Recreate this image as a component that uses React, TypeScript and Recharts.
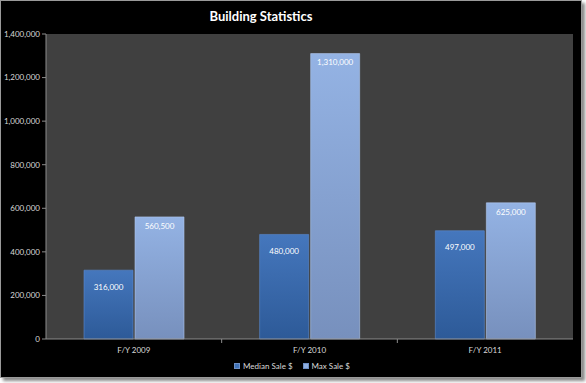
import React from 'react';
import { BarChart, Bar, XAxis, YAxis, Legend, LabelList } from 'recharts';

const categories = ['F/Y 2009', 'F/Y 2010', 'F/Y 2011'];
const medianSale = [316000, 480000, 497000];
const maxSale = [560500, 1310000, 625000];
const yTicks = [0, 200000, 400000, 600000, 800000, 1000000, 1200000, 1400000];
// category centres sit on half steps, boundaries on whole steps
const xTicks = [0, 0.5, 1, 1.5, 2, 2.5, 3];

const data = categories.map((name, i) => ({
  name,
  pos: i + 0.5,
  median: medianSale[i],
  max: maxSale[i],
}));

const fmt = (v: number) => v.toLocaleString('en-US');
const font = 'Lato, "Open Sans", sans-serif';
const axisGray = '#8c8c8c';

function XTick(props: any) {
  const { x, y, payload } = props;
  const v = payload.value as number;
  if (Number.isInteger(v)) {
    if (v === 0 || v === 3) return null;
    return <line x1={x} x2={x} y1={y - 8} y2={y - 4} stroke={axisGray} />;
  }
  return (
    <text x={x} y={y + 6} textAnchor="middle" fontSize={8} fill="#d9d9d9" fontFamily={font}>
      {categories[Math.floor(v)]}
    </text>
  );
}

function LegendContent() {
  const items = [
    { label: 'Median Sale $', color: '#3f72b8' },
    { label: 'Max Sale $', color: '#8eaee0' },
  ];
  return (
    <div style={{ display: 'flex', justifyContent: 'center', gap: 10, fontSize: 8, color: '#d9d9d9', fontFamily: font, paddingLeft: 10, paddingTop: 4 }}>
      {items.map((it) => (
        <span key={it.label} style={{ display: 'flex', alignItems: 'center', gap: 3 }}>
          <span style={{ width: 4, height: 4, background: it.color, border: '1px solid #6d8fc4', display: 'inline-block' }} />
          {it.label}
        </span>
      ))}
    </div>
  );
}

export default function App() {
  return (
    <div style={{ position: 'absolute', left: 0, top: 0, width: 586, height: 383, background: '#ffffff' }}>
      <div
        style={{
          position: 'absolute',
          left: 0,
          top: 0,
          width: 580,
          height: 376,
          background: '#000000',
          border: '1px solid #9a9a9a',
          boxShadow: '3px 3px 3px #8a8a8a',
        }}
      >
        <div
          style={{
            position: 'absolute',
            left: 0,
            width: 520,
            top: 7,
            textAlign: 'center',
            color: '#ffffff',
            fontFamily: font,
            fontWeight: 700,
            fontSize: 13,
          }}
        >
          Building Statistics
        </div>
        <BarChart
          width={580}
          height={376}
          data={data}
          margin={{ top: 33, right: 8, left: 0, bottom: 0 }}
          barGap={2}
          barSize={49}
        >
          <defs>
            <linearGradient id="gMedian" x1="0" y1="0" x2="0" y2="1">
              <stop offset="0%" stopColor="#4577bd" />
              <stop offset="100%" stopColor="#2d5a98" />
            </linearGradient>
            <linearGradient id="gMax" x1="0" y1="0" x2="0" y2="1">
              <stop offset="0%" stopColor="#94b3e4" />
              <stop offset="100%" stopColor="#7790bd" />
            </linearGradient>
          </defs>
          <rect x={45} y={33} width={527} height={305} fill="#404040" />
          <XAxis
            dataKey="pos"
            type="number"
            domain={[0, 3]}
            ticks={xTicks}
            interval={0}
            height={18}
            tick={<XTick />}
            tickLine={false}
            axisLine={{ stroke: axisGray }}
          />
          <YAxis
            width={45}
            domain={[0, 1400000]}
            ticks={yTicks}
            tickFormatter={fmt}
            tick={{ fontSize: 8, fill: '#d9d9d9', fontFamily: font }}
            tickSize={4}
            tickMargin={2}
            axisLine={{ stroke: axisGray }}
            tickLine={{ stroke: axisGray }}
            interval={0}
          />
          <Legend verticalAlign="bottom" height={20} content={<LegendContent />} />
          <Bar dataKey="median" name="Median Sale $" fill="url(#gMedian)" stroke="#5a8ad0" strokeWidth={0.6} isAnimationActive={false}>
            <LabelList dataKey="median" position="insideTop" offset={14} formatter={fmt} fill="#ffffff" fontSize={8} fontFamily={font} />
          </Bar>
          <Bar dataKey="max" name="Max Sale $" fill="url(#gMax)" stroke="#b0c8ee" strokeWidth={0.6} isAnimationActive={false}>
            <LabelList dataKey="max" position="insideTop" offset={6} formatter={fmt} fill="#ffffff" fontSize={8} fontFamily={font} />
          </Bar>
        </BarChart>
      </div>
    </div>
  );
}
